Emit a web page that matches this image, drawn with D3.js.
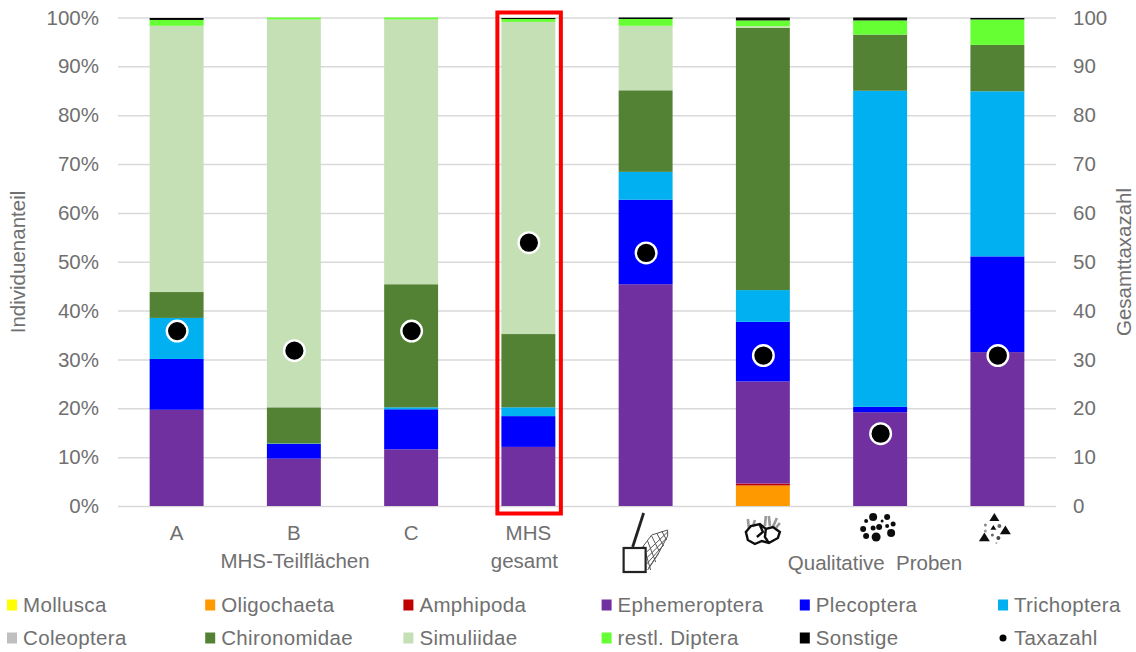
<!DOCTYPE html>
<html>
<title>Individuenanteil</title>
<meta charset="UTF-8">
<script type="text/javascript" src="https://d3js.org/d3.v7.min.js"></script>
<style type="text/css">
	body { margin:0; background:white; }
	text { font-family: "Liberation Sans", Arial, sans-serif; fill:#707070; }
	.tick text { font-size:20.5px; }
	.tick line { stroke:#d9d9d9; stroke-width:1.5px; }
	.domain { display:none; }
	.lab { font-size:20.5px; }
	.leg { font-size:20.5px; letter-spacing:0.35px; }
</style>
<body>
<svg id="viz" width="1136" height="652"></svg>
<script type="text/javascript">

var categories = ["A","B","C","MHS","net","stones","gravel","sand"];
var seriesNames = ["Mollusca","Oligochaeta","Amphipoda","Ephemeroptera","Plecoptera","Trichoptera","Coleoptera","Chironomidae","Simuliidae","restl. Diptera","Sonstige"];
var seriesColors = ["#ffff00","#ff9900","#c00000","#7030a0","#0000ff","#00b0f0","#bfbfbf","#548235","#c5e0b4","#66ff33","#000000"];

var mollusca      = [0,0,0,0,0,0,0,0];
var oligochaeta   = [0,0,0,0,0,4.2,0,0];
var amphipoda     = [0,0,0,0,0,0.4,0,0];
var ephemeroptera = [19.7,9.7,11.6,12.1,45.4,20.9,19.2,31.5];
var plecoptera    = [10.4,3,8.2,6.3,17.3,12.2,1.1,19.6];
var trichoptera   = [8.4,0.1,0.4,1.8,5.7,6.5,64.7,33.8];
var coleoptera    = [0,0,0,0,0,0,0,0];
var chironomidae  = [5.3,7.4,25.2,15.0,16.7,53.7,11.5,9.5];
var simuliidae    = [54.5,79.4,54.2,63.9,13.2,0.3,0,0];
var restlDiptera  = [1.2,0.4,0.4,0.6,1.4,1.2,2.9,5.2];
var sonstige      = [0.4,0,0,0.2,0.3,0.6,0.6,0.3];
var taxazahl      = [35.8,31.8,35.8,53.9,51.8,30.8,14.8,30.8];

var seriesValues = [mollusca,oligochaeta,amphipoda,ephemeroptera,plecoptera,trichoptera,coleoptera,chironomidae,simuliidae,restlDiptera,sonstige];
var leftTicks = [0,10,20,30,40,50,60,70,80,90,100];

var left = 118, right = 1056, top_ = 17.5, bottom = 506;

var svg = d3.select("#viz");

var defs = svg.append("defs");
defs.append("filter").attr("id","soft").append("feGaussianBlur").attr("stdDeviation",0.6);

var x = d3.scaleBand().domain(categories).range([left,right]).paddingInner(0.54).paddingOuter(0.27);
var y = d3.scaleLinear().domain([0,100]).range([bottom,top_]);

// table for the stack
var table = categories.map(function(c,i){
	var row = {cat:c};
	seriesNames.forEach(function(n,k){ row[n] = seriesValues[k][i]; });
	return row;
});
var stacked = d3.stack().keys(seriesNames)(table);

// axes + gridlines
svg.append("g").attr("transform","translate("+left+",0)")
	.call(d3.axisLeft(y).tickValues(leftTicks).tickSize(-(right-left)).tickPadding(19)
		.tickFormat(function(d){ return d+"%"; }));
svg.append("g").attr("transform","translate("+right+",0)")
	.call(d3.axisRight(y).tickValues(leftTicks).tickSize(0).tickPadding(17));

svg.append("g").selectAll("g").data(stacked).enter().append("g")
	.attr("fill",function(d,i){ return seriesColors[i]; })
	.selectAll("rect").data(function(d){ return d; }).enter().append("rect")
	.attr("x",function(d){ return x(d.data.cat); })
	.attr("width",x.bandwidth())
	.attr("y",function(d){ return y(d[1]); })
	.attr("height",function(d){ return y(d[0])-y(d[1]); });

// taxa count dots
svg.append("g").selectAll("circle").data(taxazahl).enter().append("circle")
	.attr("cx",function(d,i){ return x(categories[i])+x.bandwidth()/2+0.5; })
	.attr("cy",function(d){ return y(d); })
	.attr("r",10.3)
	.attr("fill","black").attr("stroke","white").attr("stroke-width",2.4);

// red box around MHS gesamt
var mhsX = x("MHS")+x.bandwidth()/2;
svg.append("rect").attr("x",mhsX-31).attr("y",12.5).attr("width",63.5).attr("height",501)
	.attr("fill","none").attr("stroke","#ff0000").attr("stroke-width",4);

function label(txt,cx,cy,cls){
	return svg.append("text").attr("class",cls||"lab").attr("x",cx).attr("y",cy).attr("text-anchor","middle").text(txt);
}
["A","B","C","MHS"].forEach(function(c){
	label(c,x(c)+x.bandwidth()/2,540);
});
label("gesamt",mhsX-4,568);
label("MHS-Teilflächen",295,568);
svg.append("text").attr("class","lab").attr("x",875).attr("y",570).attr("text-anchor","middle")
	.attr("xml:space","preserve").style("white-space","pre").text("Qualitative  Proben");

svg.append("text").attr("class","lab").attr("transform","translate(25,262) rotate(-90)").attr("text-anchor","middle").text("Individuenanteil");
svg.append("text").attr("class","lab").attr("transform","translate(1131,262) rotate(-90)").attr("text-anchor","middle").text("Gesamttaxazahl");

// sampling icons under the qualitative columns
var icons = svg.append("g").attr("filter","url(#soft)");
var net = icons.append("g").attr("transform","translate("+(x("net")+x.bandwidth()/2)+",0)")
	.attr("fill","none").attr("stroke","#222");
net.append("path").attr("stroke-width",1).attr("stroke","#555")
	.attr("d","M-3 547 L6 535 L22 530 L22 536 L12 555 L2 570 M1 552 L22 532 M1 558 L21 538 M1 564 L17 546 M3 568 L13 553 M-2 546 L5 570 M2 541 L10 562 M6 536 L14 552 M11 533 L18 546 M16 531 L21 540");
net.append("rect").attr("x",-22).attr("y",548).attr("width",22).attr("height",24).attr("stroke-width",2.2).attr("fill","white");
net.append("path").attr("stroke-width",2.8).attr("d","M-2 513 L-13 547");

var rocks = icons.append("g").attr("transform","translate("+(x("stones")+x.bandwidth()/2)+",0)")
	.attr("fill","none").attr("stroke","#111").attr("stroke-width",2.4);
rocks.append("path").attr("stroke","#999").attr("stroke-width",2.6).attr("d","M-14 528 L-15 519 M-10 527 L-8 520 M2 526 L3 516 M7 526 L6 516 M10 527 L14 518 M13 528 L17 523");
rocks.append("path").attr("d","M-17 532 L-12 526 L-3 524 L3 529 L10 527 L17 532 L15 538 L6 543 L-1 541 L-8 544 L-15 540 Z M-3 525 L0 532 L-6 537 M3 529 L2 537 L6 543");

var gravelDots = [[-7,-6,4],[-4,14,4.5],[7,-6,3],[-14,-2,2],[2,-2,1.5],[-17,6,3],[-7,5,2.5],[-1,4,3],[7,3,2],[13,1,2.5],[11,10,4],[-14,13,3]];
icons.append("g").selectAll("circle").data(gravelDots).enter().append("circle")
	.attr("cx",function(d){ return x("gravel")+x.bandwidth()/2+d[0]; })
	.attr("cy",function(d){ return 523+d[1]; })
	.attr("r",function(d){ return d[2]; })
	.attr("fill","#111");

var sandTri = [[-3,-5,5],[-13,15,5.5],[8,8,5.5],[-4,5,3]];
var sandDots = [[2,3,2,"#666"],[-12,2,1.5,"#888"],[-12,8,1.5,"#999"],[-5,12,1.5,"#666"],[1,15,2,"#444"],[-1,20,1,"#aaa"]];
var sandX = x("sand")+x.bandwidth()/2;
icons.append("g").selectAll("path").data(sandTri).enter().append("path")
	.attr("d",function(d){ var s=d[2]; return "M"+(sandX+d[0])+" "+(523+d[1]-s)+" L"+(sandX+d[0]+s)+" "+(523+d[1]+s*0.6)+" L"+(sandX+d[0]-s)+" "+(523+d[1]+s*0.6)+" Z"; })
	.attr("fill","#111");
icons.append("g").selectAll("circle").data(sandDots).enter().append("circle")
	.attr("cx",function(d){ return sandX+d[0]; })
	.attr("cy",function(d){ return 523+d[1]; })
	.attr("r",function(d){ return d[2]; })
	.attr("fill",function(d){ return d[3]; });

// legend, 6 columns, 2 rows
var legendNames = seriesNames.concat(["Taxazahl"]);
var legX = d3.scalePoint().domain([0,1,2,3,4,5]).range([7,998]);
var legY = d3.scalePoint().domain([0,1]).range([605,638]);
var leg = svg.append("g").selectAll("g").data(legendNames).enter().append("g")
	.attr("transform",function(d,i){ return "translate("+legX(i%6)+","+legY(Math.floor(i/6))+")"; });
leg.each(function(d,i){
	var g = d3.select(this);
	if(d=="Taxazahl"){
		g.append("circle").attr("cx",5).attr("cy",0).attr("r",3.5).attr("fill","black");
	}else{
		g.append("rect").attr("x",0).attr("y",-5.5).attr("width",10).attr("height",11).attr("fill",seriesColors[i]);
	}
	g.append("text").attr("class","leg").attr("x",16).attr("y",7).text(d);
});

</script>
</body>
</html>
